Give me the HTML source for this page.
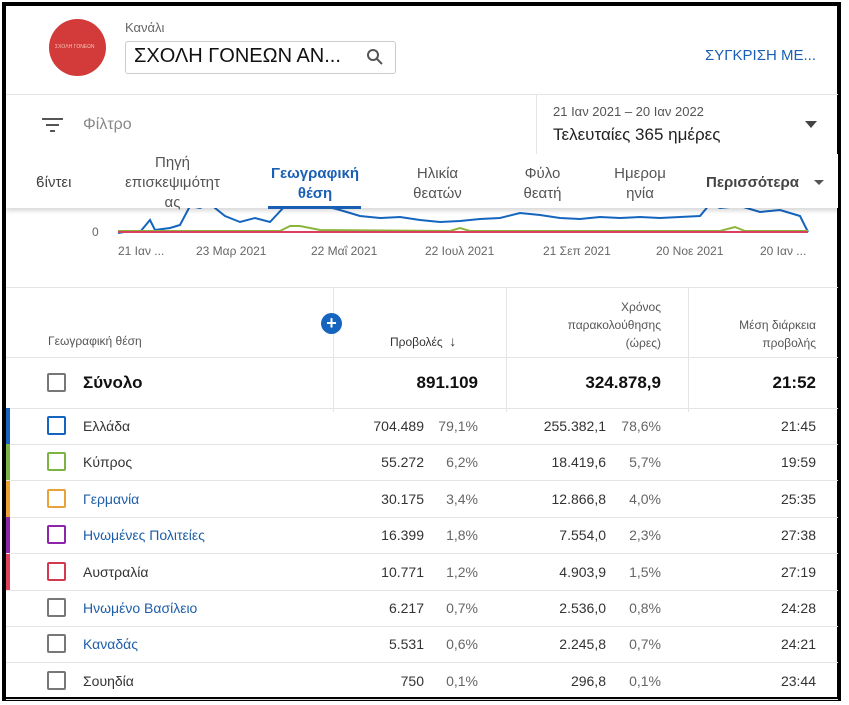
<!DOCTYPE html>
<html><head><meta charset="utf-8"><style>
*{box-sizing:border-box;margin:0;padding:0}
body{width:849px;height:705px;background:#fff;font-family:"Liberation Sans",sans-serif;position:relative;overflow:hidden;color:#222}
.frame{position:absolute;left:2px;top:2px;width:839px;height:699px;border:4px solid #000}
.a{position:absolute;white-space:nowrap}
.hl{position:absolute;height:1px;background:#e4e4e4}
.vl{position:absolute;width:1px;background:#e4e4e4}
.cb{position:absolute;left:47px;width:19px;height:19px;border:2px solid #777;border-radius:2px}
.r{text-align:right}
.row{font-size:14px;color:#333}
.link{color:#1e5ea8}
.bar{position:absolute;left:6px;width:4px;height:36px}
</style></head><body>
<div class="frame"></div>
<div class="a" style="left:49px;top:19px;width:57px;height:57px;border-radius:50%;background:#d33a3a"></div>
<div class="a" style="left:55px;top:44px;font-size:5px;color:#f3c9b8">ΣΧΟΛΗ ΓΟΝΕΩΝ</div>
<div class="a" style="left:125px;top:20px;font-size:13px;color:#666">Κανάλι</div>
<div class="a" style="left:125px;top:41px;width:271px;height:33px;border:1px solid #ccc;border-radius:3px"></div>
<div class="a" style="left:134px;top:45px;font-size:20px;color:#111">ΣΧΟΛΗ ΓΟΝΕΩΝ ΑΝ...</div>
<svg class="a" style="left:366px;top:48px" width="18" height="18"><circle cx="7" cy="7" r="5" fill="none" stroke="#555" stroke-width="2"/><line x1="11" y1="11" x2="16" y2="16" stroke="#555" stroke-width="2"/></svg>
<div class="a" style="left:705px;top:47px;font-size:15px;color:#1a5fb4">ΣΥΓΚΡΙΣΗ ΜΕ...</div>
<div class="hl" style="left:6px;top:94px;width:832px"></div>
<div class="vl" style="left:536px;top:94px;height:60px"></div>
<svg class="a" style="left:42px;top:117px" width="22" height="16"><rect x="0" y="1" width="21" height="2" fill="#555"/><rect x="4" y="7" width="13" height="2" fill="#555"/><rect x="8" y="13" width="5" height="2" fill="#555"/></svg>
<div class="a" style="left:83px;top:116px;font-size:16px;color:#888">Φίλτρο</div>
<div class="a" style="left:553px;top:104px;font-size:13px;color:#555">21 Ιαν 2021 – 20 Ιαν 2022</div>
<div class="a" style="left:553px;top:125px;font-size:17px;color:#222">Τελευταίες 365 ημέρες</div>
<div class="a" style="left:805px;top:121px;width:0;height:0;border-left:6px solid transparent;border-right:6px solid transparent;border-top:7px solid #444"></div>
<!-- chart -->
<svg class="a" style="left:0;top:200px" width="849" height="40">
<polyline fill="none" stroke="#1565c0" stroke-width="2" points="118,33 130,31 140,32 150,20 155,30 170,28 180,25 190,6 200,8 210,4 225,16 240,22 255,18 270,22 285,6 300,0 315,4 325,6 340,10 360,16 380,18 400,17 420,20 440,22 460,21 480,19 500,18 520,13 540,15 560,18 580,19 600,17 620,18 640,17 660,18 680,17 700,16 710,4 720,8 740,6 760,12 780,10 800,16 806,28 808,32"/>
<polyline fill="none" stroke="#8bb53a" stroke-width="2" points="118,31 280,31 290,26 300,26 320,30 450,31 460,28 470,31 720,31 735,27 745,31 808,31"/>
<line x1="118" y1="32" x2="808" y2="32" stroke="#d94060" stroke-width="2"/>
</svg>
<div class="a" style="left:92px;top:225px;font-size:12px;color:#666">0</div>
<div class="a row" style="left:118px;top:244px;font-size:12px;color:#666">21 Ιαν ...</div>
<div class="a" style="left:196px;top:244px;font-size:12px;color:#666">23 Μαρ 2021</div>
<div class="a" style="left:311px;top:244px;font-size:12px;color:#666">22 Μαΐ 2021</div>
<div class="a" style="left:425px;top:244px;font-size:12px;color:#666">22 Ιουλ 2021</div>
<div class="a" style="left:543px;top:244px;font-size:12px;color:#666">21 Σεπ 2021</div>
<div class="a" style="left:656px;top:244px;font-size:12px;color:#666">20 Νοε 2021</div>
<div class="a" style="left:760px;top:244px;font-size:12px;color:#666">20 Ιαν ...</div>
<!-- tabs -->
<div class="a" style="left:6px;top:154px;width:832px;height:54px;background:#fff;box-shadow:0 3px 4px rgba(0,0,0,.15)"></div>
<div class="a" style="left:36px;top:174px;font-size:15px;color:#444">ϐίντει</div>
<div class="a" style="left:100px;top:153px;width:145px;text-align:center;font-size:15px;color:#555;line-height:20px">Πηγή<br>επισκεψιμότητ<br>ας</div>
<div class="a" style="left:262px;top:164px;width:106px;text-align:center;font-size:15px;color:#1a5fb4;font-weight:bold;line-height:20px;white-space:normal">Γεωγραφική θέση</div>
<div class="a" style="left:268px;top:206px;width:93px;height:3px;background:#1a5fb4"></div>
<div class="a" style="left:400px;top:164px;width:75px;text-align:center;font-size:15px;color:#555;line-height:20px;white-space:normal">Ηλικία θεατών</div>
<div class="a" style="left:510px;top:164px;width:65px;text-align:center;font-size:15px;color:#555;line-height:20px;white-space:normal">Φύλο θεατή</div>
<div class="a" style="left:605px;top:164px;width:70px;text-align:center;font-size:15px;color:#555;line-height:20px;white-space:normal">Ημερομ ηνία</div>
<div class="a" style="left:706px;top:174px;font-size:15px;color:#444;font-weight:bold">Περισσότερα</div>
<div class="a" style="left:814px;top:180px;border-left:5px solid transparent;border-right:5px solid transparent;border-top:5px solid #555"></div>
<!-- table -->
<div class="hl" style="left:6px;top:287px;width:832px"></div>
<div class="hl" style="left:6px;top:357px;width:832px"></div>
<div class="vl" style="left:333px;top:287px;height:125px"></div>
<div class="vl" style="left:506px;top:287px;height:125px"></div>
<div class="vl" style="left:688px;top:287px;height:125px"></div>
<div class="a" style="left:48px;top:334px;font-size:12px;color:#555">Γεωγραφική θέση</div>
<div class="a" style="left:321px;top:313px;width:21px;height:21px;border-radius:50%;background:#1565c0;color:#fff;font-size:18px;font-weight:bold;text-align:center;line-height:21px">+</div>
<div class="a" style="left:390px;top:333px;font-size:12px;color:#333">Προβολές &nbsp;<span style="font-size:14px">↓</span></div>
<div class="a r" style="left:540px;top:298px;width:121px;font-size:12px;color:#555;line-height:18px;white-space:normal">Χρόνος παρακολούθησης (ώρες)</div>
<div class="a r" style="left:710px;top:316px;width:106px;font-size:12px;color:#555;line-height:18px;white-space:normal">Μέση διάρκεια προβολής</div>
<div class="cb" style="top:373px"></div>
<div class="a" style="left:83px;top:373px;font-size:17px;font-weight:bold;color:#111">Σύνολο</div>
<div class="a r" style="left:360px;top:373px;width:118px;font-size:17px;font-weight:bold;color:#111">891.109</div>
<div class="a r" style="left:540px;top:373px;width:121px;font-size:17px;font-weight:bold;color:#111">324.878,9</div>
<div class="a r" style="left:700px;top:373px;width:116px;font-size:17px;font-weight:bold;color:#111">21:52</div>
<div class="hl" style="left:6px;top:408px;width:832px"></div>
<div id="rows"></div>
<script>
const d=[["Ελλάδα","704.489","79,1%","255.382,1","78,6%","21:45","#1565c0",0,"#1565c0"],
["Κύπρος","55.272","6,2%","18.419,6","5,7%","19:59","#7cb342",0,"#7cb342"],
["Γερμανία","30.175","3,4%","12.866,8","4,0%","25:35","#f0a030",1,"#e8a23a"],
["Ηνωμένες Πολιτείες","16.399","1,8%","7.554,0","2,3%","27:38","#8e24aa",1,"#8e24aa"],
["Αυστραλία","10.771","1,2%","4.903,9","1,5%","27:19","#e0405a",0,"#d33a50"],
["Ηνωμένο Βασίλειο","6.217","0,7%","2.536,0","0,8%","24:28",null,1,"#777"],
["Καναδάς","5.531","0,6%","2.245,8","0,7%","24:21",null,1,"#777"],
["Σουηδία","750","0,1%","296,8","0,1%","23:44",null,0,"#777"]];
let h="";d.forEach((r,i)=>{const t=408+i*36.4;
if(r[6])h+=`<div class="bar" style="top:${t}px;background:${r[6]}"></div>`;
h+=`<div class="cb" style="top:${t+8}px;border-color:${r[8]}"></div>
<div class="a row ${r[7]?'link':''}" style="left:83px;top:${t+10}px">${r[0]}</div>
<div class="a row r" style="left:340px;top:${t+10}px;width:84px">${r[1]}</div>
<div class="a row r" style="left:430px;top:${t+10}px;width:48px;color:#666">${r[2]}</div>
<div class="a row r" style="left:510px;top:${t+10}px;width:96px">${r[3]}</div>
<div class="a row r" style="left:610px;top:${t+10}px;width:51px;color:#666">${r[4]}</div>
<div class="a row r" style="left:700px;top:${t+10}px;width:116px">${r[5]}</div>
<div class="hl" style="left:6px;top:${t+36}px;width:832px"></div>`;});
document.getElementById("rows").innerHTML=h;
</script>
</body></html>
